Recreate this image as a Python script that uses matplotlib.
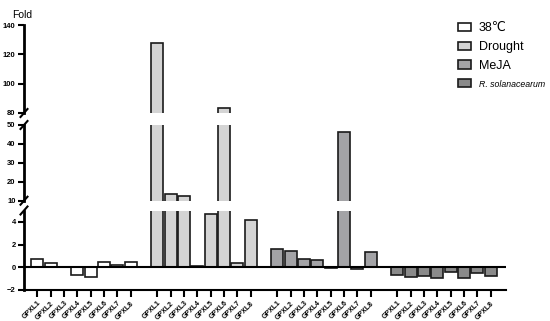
import matplotlib
matplotlib.use("Agg")
import matplotlib.pyplot as plt
from matplotlib.patches import Patch
import numpy as np

plt.rcParams['font.family'] = ['Liberation Sans', 'DejaVu Sans']

genes = ["GPXL1", "GPXL2", "GPXL3", "GPXL4", "GPXL5", "GPXL6", "GPXL7", "GPXL8"]
treatments = ["38℃", "Drought", "MeJA", "R. solanacearum"]
heat = [0.72, 0.42, 0.05, -0.65, -0.82, 0.44, 0.24, 0.44]
drought = [127.5, 13.4, 12.5, 0.1, 4.72, 83.6, 0.42, 4.14]
meja = [1.6, 1.45, 0.74, 0.62, -0.08, 46.1, -0.15, 1.35]
rsol = [-0.68, -0.88, -0.78, -0.9, -0.45, -0.92, -0.5, -0.78]
series = [heat, drought, meja, rsol]
colors = ["#ffffff", "#d4d4d4", "#a3a3a6", "#8a8a8a"]

fig = plt.figure(figsize=(5.5, 3.21), dpi=100)
L, R = 24 / 550, 506 / 550
def fy(p):
    return 1 - p / 321

ax_top = fig.add_axes([L, fy(113), R - L, fy(25) - fy(113)])
ax_mid = fig.add_axes([L, fy(200.7), R - L, fy(125) - fy(200.7)])
ax_bot = fig.add_axes([L, fy(290), R - L, fy(210.5) - fy(290)])
axes = [ax_top, ax_mid, ax_bot]

xs_all, labels_all = [], []
for g, vals in enumerate(series):
    xs = [g * 9 + j for j in range(len(genes))]
    xs_all += xs
    labels_all += genes
    for ax in axes:
        ax.bar(xs, vals, width=0.9, color=colors[g], edgecolor="#1a1a1a",
               linewidth=1.2, zorder=3)

ax_top.set_ylim(80, 140)
ax_top.set_yticks([80, 100, 120, 140])
ax_mid.set_ylim(10, 50)
ax_mid.set_yticks([10, 20, 30, 40, 50])
ax_bot.set_ylim(-2, 5)
ax_bot.set_yticks([-2, 0, 2, 4])

for ax in axes:
    ax.set_xlim(-1, 35.15)
    for s in ["top", "right", "bottom"]:
        ax.spines[s].set_visible(False)
    ax.spines["left"].set_linewidth(2)
    ax.tick_params(axis="y", length=4, width=1.5, labelsize=5.5, pad=2)
    for t in ax.get_yticklabels():
        t.set_fontweight("bold")
    ax.patch.set_alpha(0)

for ax in [ax_top, ax_mid]:
    ax.set_xticks([])

ax_bot.spines["bottom"].set_visible(True)
ax_bot.spines["bottom"].set_linewidth(1.5)
ax_bot.axhline(0, color="black", lw=1.5, zorder=4)
ax_bot.set_xticks(xs_all)
ax_bot.set_xticklabels(labels_all, rotation=45, ha="right", rotation_mode="anchor",
                       fontsize=5, fontweight="bold")
ax_bot.tick_params(axis="x", length=5, width=1.5, pad=2)

def slash_px(ax, yfrac):
    h = ax.bbox.height
    w = ax.bbox.width
    dx = 3.5 / w
    dy = 4.0 / h
    ax.plot([-dx, dx], [yfrac - dy, yfrac + dy], transform=ax.transAxes,
            color="black", lw=1.5, clip_on=False, zorder=5)

slash_px(ax_top, 0)
slash_px(ax_mid, 1)
slash_px(ax_mid, 0)
slash_px(ax_bot, 1)

fig.text(12 / 550, fy(15), "Fold", fontsize=7.5, va="center", ha="left")

handles = [Patch(facecolor=c, edgecolor="#1a1a1a", linewidth=1.2) for c in colors]
leg = fig.legend(handles, treatments, loc="upper left", bbox_to_anchor=(452 / 550, fy(16)),
                 frameon=False, fontsize=9, handlelength=1.0, handleheight=0.65,
                 handletextpad=0.65, labelspacing=0.55, borderpad=0)
txts = leg.get_texts()
txts[3].set_fontstyle("italic")
txts[3].set_fontsize(6.3)

fig.savefig("out.png", dpi=100)
